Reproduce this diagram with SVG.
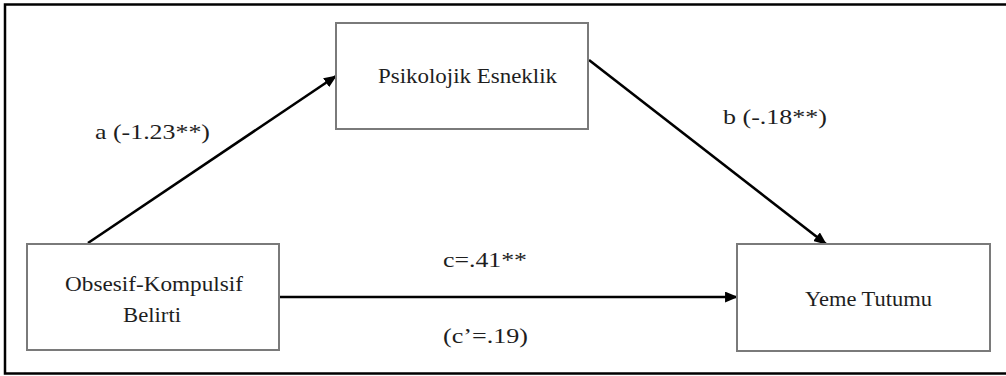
<svg xmlns="http://www.w3.org/2000/svg" width="1006" height="376" viewBox="0 0 1006 376">
  <defs>
    <marker id="head" viewBox="0 0 12 10" refX="11" refY="5" markerWidth="13" markerHeight="11" markerUnits="userSpaceOnUse" orient="auto">
      <path d="M0,0 L12,5 L0,10 Z" fill="#000"/>
    </marker>
    <style>
      .box { fill: #fff; stroke: #7a7a7a; stroke-width: 2; }
      .node-label { font-family: "Liberation Serif", "Times New Roman", serif; font-size: 21px; fill: #1e1e1e; }
      .edge { stroke: #000; stroke-width: 2.6; fill: none; marker-end: url(#head); }
      .edge-label { font-family: "Liberation Serif", "Times New Roman", serif; font-size: 22px; fill: #1e1e1e; }
    </style>
  </defs>

  <rect width="1006" height="376" fill="#fff"/>
  <!-- outer frame, open on the right -->
  <rect x="5" y="4.5" width="1020" height="369" fill="none" stroke="#000" stroke-width="2.5"/>

  <g id="connectors">
    <line class="edge" x1="88" y1="243" x2="336" y2="76"/>
    <line class="edge" x1="589" y1="60" x2="826" y2="244"/>
    <line class="edge" x1="279" y1="297" x2="737" y2="297"/>
  </g>

  <g id="node-psikolojik">
    <rect class="box" x="336" y="23" width="252" height="106"/>
    <text class="node-label" x="378" y="83" textLength="179" lengthAdjust="spacingAndGlyphs">Psikolojik Esneklik</text>
  </g>

  <g id="node-obsesif">
    <rect class="box" x="27" y="244" width="252" height="106"/>
    <text class="node-label" x="65" y="291" textLength="178" lengthAdjust="spacingAndGlyphs">Obsesif-Kompulsif</text>
    <text class="node-label" x="123" y="322" textLength="58" lengthAdjust="spacingAndGlyphs">Belirti</text>
  </g>

  <g id="node-yeme">
    <rect class="box" x="737" y="244" width="253" height="107"/>
    <text class="node-label" x="805" y="306" textLength="127" lengthAdjust="spacingAndGlyphs">Yeme Tutumu</text>
  </g>

  <g id="edge-labels">
    <text class="edge-label" x="95" y="139" textLength="115" lengthAdjust="spacingAndGlyphs">a (-1.23**)</text>
    <text class="edge-label" x="723" y="124" textLength="104" lengthAdjust="spacingAndGlyphs">b (-.18**)</text>
    <text class="edge-label" x="443" y="267" textLength="84" lengthAdjust="spacingAndGlyphs">c=.41**</text>
    <text class="edge-label" x="443" y="343" textLength="85" lengthAdjust="spacingAndGlyphs">(c’=.19)</text>
  </g>
</svg>
